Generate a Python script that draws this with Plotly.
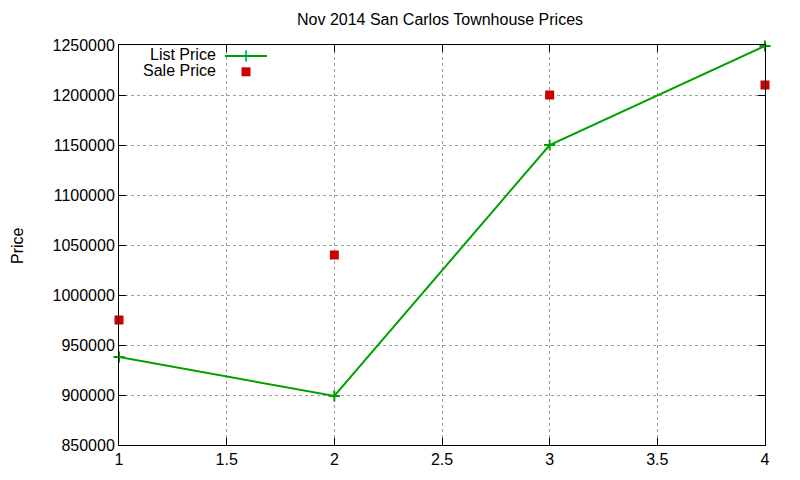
import plotly.graph_objects as go

x_vals = [1, 2, 3, 4]
list_price = [938000, 899000, 1150000, 1249000]
sale_price = [975000, 1040000, 1200000, 1210000]

green = '#00a000'
red = '#cc0000'
font = dict(family='Liberation Sans, Arial, sans-serif', size=16, color='black')

# page body has an 8px margin, so the figure is 8px smaller and margins shifted
fig = go.Figure()
fig.add_trace(go.Scatter(x=x_vals, y=list_price, mode='lines+markers', name='List Price',
                         line=dict(color=green, width=2),
                         marker=dict(symbol='cross-thin-open', size=8, color=green,
                                     line=dict(color=green, width=2)),
                         showlegend=False, cliponaxis=False))
fig.add_trace(go.Scatter(x=x_vals, y=sale_price, mode='markers', name='Sale Price',
                         marker=dict(symbol='square', size=9, color=red),
                         showlegend=False, cliponaxis=False))

# gnuplot-style legend, text on the left, sample on the right
fig.add_annotation(xref='paper', yref='paper', x=0.1535, y=0.976, text='List Price',
                   showarrow=False, xanchor='right', yanchor='middle', font=font)
fig.add_annotation(xref='paper', yref='paper', x=0.1535, y=0.935, text='Sale Price',
                   showarrow=False, xanchor='right', yanchor='middle', font=font)
fig.add_shape(type='line', xref='paper', yref='paper', x0=0.164, x1=0.229, y0=0.9727, y1=0.9727,
              line=dict(color=green, width=2))
fig.add_trace(go.Scatter(x=[0.1966], y=[0.9727], xaxis='x2', yaxis='y2', mode='markers',
                         marker=dict(symbol='cross-thin-open', size=8, line=dict(color=green, width=2)),
                         showlegend=False, hoverinfo='skip', cliponaxis=False))
fig.add_trace(go.Scatter(x=[0.1966], y=[0.933], xaxis='x2', yaxis='y2', mode='markers',
                         marker=dict(symbol='square', size=9, color=red),
                         showlegend=False, hoverinfo='skip', cliponaxis=False))

# y axis title
fig.add_annotation(xref='paper', yref='paper', x=-0.158, y=0.50, text='Price', textangle=-90,
                   showarrow=False, xanchor='center', yanchor='middle', font=font)

axis_common = dict(showline=True, linecolor='black', linewidth=1, mirror='ticks',
                   ticks='inside', ticklen=7, tickcolor='black',
                   showgrid=True, gridcolor='#a0a0a0', griddash='dot', gridwidth=1,
                   zeroline=False, tickfont=font)

fig.update_layout(
    width=792, height=472,
    margin=dict(l=111, r=35, t=37, b=29),
    plot_bgcolor='white', paper_bgcolor='white',
    font=font,
    title=dict(text='Nov 2014 San Carlos Townhouse Prices', x=0.5455, xanchor='center',
               y=0.975, yanchor='middle', font=font),
    xaxis=dict(range=[1, 4], dtick=0.5, **axis_common),
    yaxis=dict(range=[850000, 1250000], dtick=50000, tickformat='d', **axis_common),
    xaxis2=dict(range=[0, 1], visible=False, overlaying='x'),
    yaxis2=dict(range=[0, 1], visible=False, overlaying='y'),
)

fig.write_html('out.html')
